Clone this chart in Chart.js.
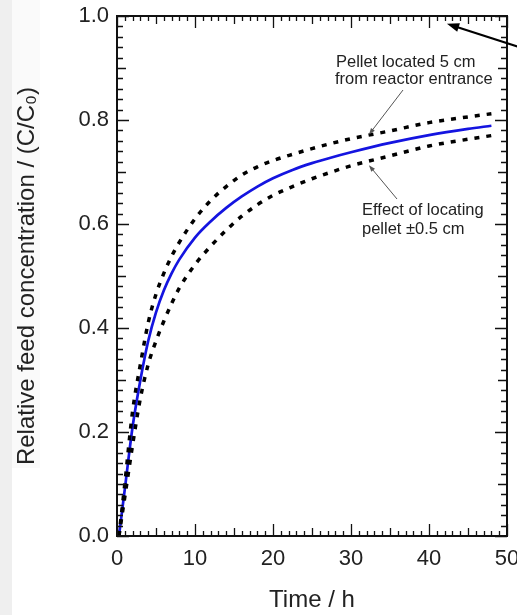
<!DOCTYPE html>
<html>
<head>
<meta charset="utf-8">
<script src="https://cdn.jsdelivr.net/npm/chart.js@4.4.1/dist/chart.umd.min.js"></script>
<style>
  html, body { margin: 0; padding: 0; background: #fff; }
  canvas { display: block; }
</style>
</head>
<body>
<canvas id="c" width="517" height="615"></canvas>
<script>
// ---- data ----
const time   = [0.25, 1, 2, 3, 4, 5, 6, 7, 8, 10, 12, 14, 16, 18, 20, 22.5, 25, 27.5, 30, 35, 40, 45, 48];
const centre = [0, 0.09, 0.21, 0.30, 0.375, 0.43, 0.472, 0.505, 0.532, 0.574, 0.605, 0.631, 0.653, 0.672, 0.688, 0.704, 0.717, 0.728, 0.738, 0.756, 0.771, 0.783, 0.789];
const upper  = [0, 0.10, 0.24, 0.33, 0.41, 0.465, 0.505, 0.538, 0.565, 0.61, 0.645, 0.672, 0.694, 0.71, 0.722, 0.734, 0.745, 0.755, 0.764, 0.779, 0.795, 0.806, 0.812];
const lower  = [0, 0.075, 0.175, 0.265, 0.33, 0.375, 0.413, 0.447, 0.477, 0.522, 0.557, 0.588, 0.615, 0.637, 0.655, 0.672, 0.687, 0.70, 0.712, 0.731, 0.75, 0.763, 0.77];

const xTickValues = [0, 10, 20, 30, 40, 50];
const xTickLabels = ['0', '10', '20', '30', '40', '50'];
const yTickValues = [0, 0.2, 0.4, 0.6, 0.8, 1.0];
const yTickLabels = ['0.0', '0.2', '0.4', '0.6', '0.8', '1.0'];

const xTitle = 'Time / h';
const yTitle = 'Relative feed concentration / (C/C\u2080)';
const note1 = ['Pellet located 5 cm', 'from reactor entrance'];
const note2 = ['Effect of locating', 'pellet \u00b10.5 cm'];
// annotation targets (data coordinates)
const note1Target = { x: 32.3, y: 0.772 };
const note2Target = { x: 32.3, y: 0.713 };
const bigArrowTarget = { x: 42.3, y: 0.985 };

const pts = (ys) => time.map((t, i) => ({ x: t, y: ys[i] }));
const FONT = "'Liberation Sans', Arial, sans-serif";

const framePlugin = {
  id: 'frame',
  beforeDraw(chart) {
    const ctx = chart.ctx;
    ctx.save();
    ctx.fillStyle = '#ffffff';
    ctx.fillRect(0, 0, chart.width, chart.height);
    ctx.fillStyle = '#fafafa';
    ctx.fillRect(12, 0, 28, 468);
    ctx.fillStyle = '#efefef';
    ctx.fillRect(0, 0, 12, chart.height);
    ctx.restore();
  },
  afterDatasetsDraw(chart) {
    const ctx = chart.ctx;
    const a = chart.chartArea;
    const xs = chart.scales.x, ys = chart.scales.y;
    ctx.save();
    ctx.strokeStyle = '#111';
    ctx.lineWidth = 1.3;
    ctx.beginPath();
    // x ticks (bottom and top), inward
    for (let v = xs.min; v <= xs.max + 1e-9; v += 1) {
      const px = Math.round(xs.getPixelForValue(v)) + 0.5;
      const len = (v % 10 === 0) ? 12 : (v % 5 === 0 ? 8 : 5);
      ctx.moveTo(px, a.bottom); ctx.lineTo(px, a.bottom - len);
      ctx.moveTo(px, a.top); ctx.lineTo(px, a.top + len);
    }
    // y ticks (left and right), inward
    for (let k = 0; k <= 50; k++) {
      const v = k * 0.02;
      const py = Math.round(ys.getPixelForValue(v)) + 0.5;
      const len = (k % 10 === 0) ? 12 : (k % 5 === 0 ? 9 : 6);
      ctx.moveTo(a.left, py); ctx.lineTo(a.left + len, py);
      ctx.moveTo(a.right, py); ctx.lineTo(a.right - len, py);
    }
    ctx.stroke();
    // frame
    ctx.lineWidth = 2;
    ctx.strokeRect(a.left, a.top, a.right - a.left, a.bottom - a.top);

    // annotations
    ctx.fillStyle = '#222';
    ctx.font = '16.5px ' + FONT;
    ctx.textBaseline = 'middle';
    ctx.textAlign = 'left';
    ctx.fillText(note1[0], 336, 62);
    ctx.fillText(note1[1], 335, 79);
    ctx.fillText(note2[0], 362, 210);
    ctx.fillText(note2[1], 362, 229);

    const arrow = (x0, y0, x1, y1, w, head, color) => {
      const ang = Math.atan2(y1 - y0, x1 - x0);
      ctx.strokeStyle = color; ctx.fillStyle = color; ctx.lineWidth = w;
      ctx.beginPath();
      ctx.moveTo(x0, y0);
      ctx.lineTo(x1 - Math.cos(ang) * head * 0.8, y1 - Math.sin(ang) * head * 0.8);
      ctx.stroke();
      ctx.beginPath();
      ctx.moveTo(x1, y1);
      ctx.lineTo(x1 - head * Math.cos(ang - 0.35), y1 - head * Math.sin(ang - 0.35));
      ctx.lineTo(x1 - head * Math.cos(ang + 0.35), y1 - head * Math.sin(ang + 0.35));
      ctx.closePath();
      ctx.fill();
    };
    arrow(403, 90, xs.getPixelForValue(note1Target.x), ys.getPixelForValue(note1Target.y), 1, 7, '#555');
    arrow(397, 199, xs.getPixelForValue(note2Target.x), ys.getPixelForValue(note2Target.y), 1, 7, '#555');
    arrow(519, 47, xs.getPixelForValue(bigArrowTarget.x), ys.getPixelForValue(bigArrowTarget.y), 2.2, 13, '#000');
    ctx.restore();
  }
};

new Chart(document.getElementById('c'), {
  type: 'line',
  data: {
    datasets: [
      { data: pts(upper), borderColor: '#000', borderWidth: 3.5, borderDash: [5, 7], pointRadius: 0, cubicInterpolationMode: 'monotone', fill: false },
      { data: pts(lower), borderColor: '#000', borderWidth: 3.5, borderDash: [5, 7], pointRadius: 0, cubicInterpolationMode: 'monotone', fill: false },
      { data: pts(centre), borderColor: '#1414e0', borderWidth: 2.7, pointRadius: 0, cubicInterpolationMode: 'monotone', fill: false }
    ]
  },
  options: {
    responsive: false,
    animation: false,
    events: [],
    layout: { padding: { left: 0, right: 10, top: 16, bottom: 0 } },
    plugins: { legend: { display: false }, tooltip: { enabled: false } },
    scales: {
      x: {
        type: 'linear', min: 0, max: 50,
        grid: { display: false, drawTicks: false },
        border: { display: false },
        afterBuildTicks: s => { s.ticks = xTickValues.map(v => ({ value: v })); },
        ticks: {
          callback: (v, i) => xTickLabels[i],
          font: { family: FONT, size: 22 }, color: '#222', padding: 10, maxRotation: 0
        },
        title: { display: true, text: xTitle, font: { family: FONT, size: 24 }, color: '#222', padding: { top: -6, bottom: 0 } },
        afterFit: s => { s.height = 79; s.paddingLeft = 0; s.paddingRight = 0; }
      },
      y: {
        type: 'linear', min: 0, max: 1,
        grid: { display: false, drawTicks: false },
        border: { display: false },
        afterBuildTicks: s => { s.ticks = yTickValues.map(v => ({ value: v })); },
        ticks: {
          callback: (v, i) => yTickLabels[i],
          font: { family: FONT, size: 22 }, color: '#222', padding: 8
        },
        title: { display: true, text: yTitle, font: { family: FONT, size: 24 }, color: '#222', padding: { top: 13 } },
        afterFit: s => { s.width = 117; s.paddingTop = 0; s.paddingBottom = 0; }
      }
    }
  },
  plugins: [framePlugin]
});
</script>
</body>
</html>
